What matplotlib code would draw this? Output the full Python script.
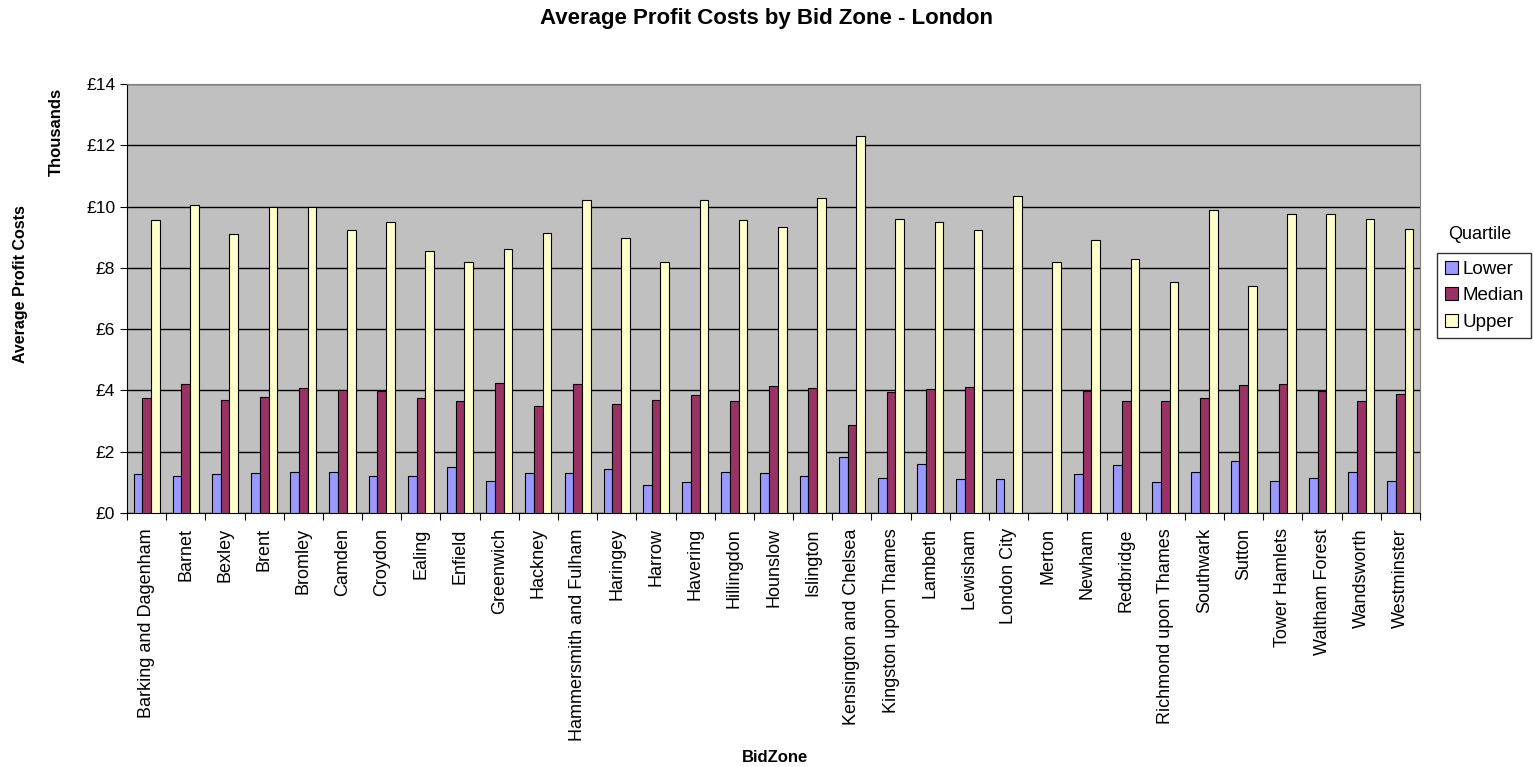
import matplotlib.pyplot as plt
import numpy as np

plt.rcParams['font.family'] = ['Liberation Sans', 'DejaVu Sans']

zones = ['Barking and Dagenham', 'Barnet', 'Bexley', 'Brent', 'Bromley', 'Camden',
         'Croydon', 'Ealing', 'Enfield', 'Greenwich', 'Hackney', 'Hammersmith and Fulham',
         'Haringey', 'Harrow', 'Havering', 'Hillingdon', 'Hounslow', 'Islington',
         'Kensington and Chelsea', 'Kingston upon Thames', 'Lambeth', 'Lewisham',
         'London City', 'Merton', 'Newham', 'Redbridge', 'Richmond upon Thames',
         'Southwark', 'Sutton', 'Tower Hamlets', 'Waltham Forest', 'Wandsworth',
         'Westminster']
# values in thousands of pounds
lower = [1.28, 1.22, 1.28, 1.32, 1.35, 1.35, 1.22, 1.2, 1.5, 1.05, 1.32, 1.32,
         1.45, 0.9, 1.0, 1.35, 1.32, 1.22, 1.82, 1.15, 1.6, 1.1, 1.1, 0.0,
         1.28, 1.55, 1.0, 1.35, 1.68, 1.05, 1.15, 1.35, 1.05]
median = [3.75, 4.2, 3.7, 3.8, 4.07, 4.02, 3.97, 3.75, 3.65, 4.25, 3.48, 4.2,
          3.57, 3.7, 3.85, 3.65, 4.15, 4.07, 2.88, 3.95, 4.03, 4.12, 0.0, 0.0,
          3.97, 3.65, 3.65, 3.75, 4.17, 4.22, 3.97, 3.65, 3.88]
upper = [9.55, 10.05, 9.1, 9.97, 10.0, 9.23, 9.5, 8.55, 8.18, 8.6, 9.15, 10.2,
         8.97, 8.18, 10.2, 9.55, 9.33, 10.28, 12.3, 9.6, 9.5, 9.25, 10.33, 8.18,
         8.92, 8.28, 7.55, 9.9, 7.4, 9.75, 9.75, 9.6, 9.28]
yticks = [0, 2, 4, 6, 8, 10, 12, 14]

fig = plt.figure(figsize=(15.34, 7.67), dpi=100)
ax = fig.add_axes([0.0828, 0.3312, 0.8429, 0.5593])
ax.set_facecolor('#C0C0C0')

x = np.arange(len(zones))
w = 0.222
ax.bar(x - w, lower, w, color='#9999FF', edgecolor='black', linewidth=0.8, label='Lower', zorder=3)
ax.bar(x, median, w, color='#993366', edgecolor='black', linewidth=0.8, label='Median', zorder=3)
ax.bar(x + w, upper, w, color='#FFFFCC', edgecolor='black', linewidth=0.8, label='Upper', zorder=3)

ax.set_xlim(-0.5, len(zones) - 0.5)
ax.set_ylim(0, 14)
ax.set_yticks(yticks)
ax.set_yticklabels(['£%d' % v for v in yticks], fontsize=12.5)
ax.yaxis.grid(True, color='black', linewidth=1, zorder=0)
ax.set_axisbelow(True)

ax.set_xticks(np.arange(len(zones) + 1) - 0.5, minor=False)
ax.set_xticklabels([])
ax.set_xticks(x, minor=True)
ax.set_xticklabels(zones, minor=True, rotation=90, fontsize=13)
ax.tick_params(axis='x', which='minor', length=0, pad=11)
ax.tick_params(axis='x', which='major', length=5, direction='out')
ax.tick_params(axis='y', length=5, direction='out')

for s in ['top', 'right']:
    ax.spines[s].set_color('#808080')
ax.spines['left'].set_color('black')
ax.spines['bottom'].set_color('black')

fig.text(0.5, 0.976, 'Average Profit Costs by Bid Zone - London', fontsize=16,
         fontweight='bold', ha='center', va='center')
fig.text(0.0135, 0.630, 'Average Profit Costs', rotation=90, fontsize=11.5, fontweight='bold',
         ha='center', va='center')
fig.text(0.037, 0.828, 'Thousands', rotation=90, fontsize=12, fontweight='bold',
         ha='center', va='center')
fig.text(0.505, 0.012, 'BidZone', fontsize=12, fontweight='bold', ha='center', va='center')

fig.text(0.9648, 0.694, 'Quartile', fontsize=13, ha='center', va='center')
leg = ax.legend(loc='upper left', bbox_to_anchor=(1.0132, 0.606), fontsize=13.5,
                frameon=True, fancybox=False, edgecolor='black', handlelength=0.7,
                handleheight=0.7, handletextpad=0.25, borderpad=0.4, labelspacing=0.5,
                borderaxespad=0)
leg.get_frame().set_linewidth(1)

fig.savefig('out.png', dpi=100)
